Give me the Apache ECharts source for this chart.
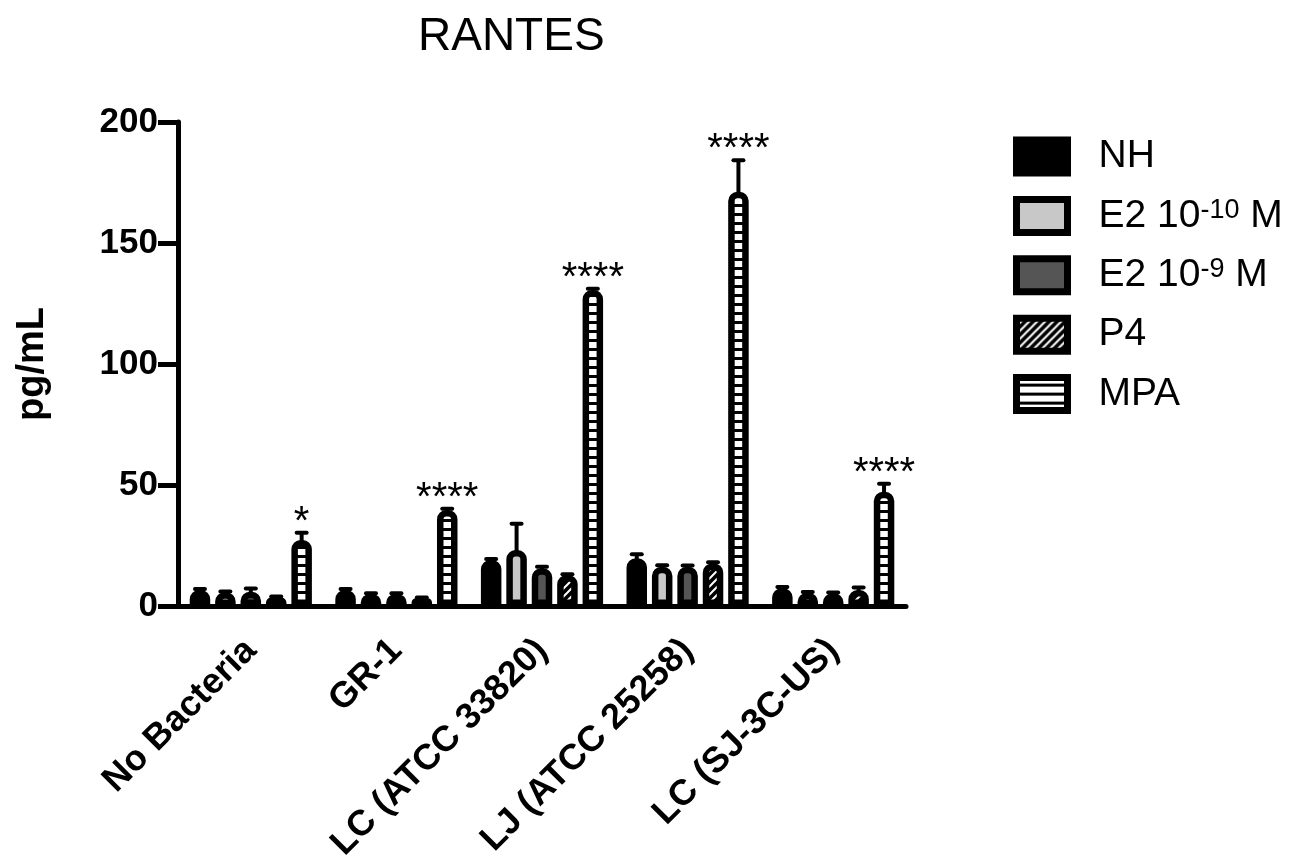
<!DOCTYPE html>
<html>
<head>
<meta charset="utf-8">
<title>RANTES</title>
<script src="https://cdn.jsdelivr.net/npm/echarts@6/dist/echarts.min.js"></script>
<style>
  html, body { margin: 0; padding: 0; background: #fff; }
  #chart { width: 1303px; height: 865px; }
</style>
</head>
<body>
<div id="chart"></div>
<script>
// ---- data ----
const categories = ['No Bacteria', 'GR-1', 'LC (ATCC 33820)', 'LJ (ATCC 25258)', 'LC (SJ-3C-US)'];
const seriesNames = ['NH', 'E2 10-10 M', 'E2 10-9 M', 'P4', 'MPA'];

const nhMean     = [6.6, 6.6, 19.0, 19.7, 7.3];
const nhErr      = [0.4, 0.4, 0.4, 1.7, 0.6];
const e2lowMean  = [5.7, 5.0, 23.1, 16.2, 5.5];
const e2lowErr   = [0.3, 0.3, 10.9, 0.6, 0.3];
const e2highMean = [5.9, 5.0, 15.6, 16.2, 5.3];
const e2highErr  = [1.3, 0.3, 0.6, 0.5, 0.3];
const p4Mean     = [3.6, 3.2, 12.8, 17.6, 6.6];
const p4Err      = [0.3, 0.3, 0.3, 0.5, 1.0];
const mpaMean    = [27.3, 39.7, 130.6, 171.2, 47.2];
const mpaErr     = [3.0, 0.5, 0.5, 13.0, 3.3];

const mpaSignificance = ['*', '****', '****', '****', '****'];
const yTicks = [0, 50, 100, 150, 200];

// ---- fill patterns ----
function makeTile(w, h, draw) {
  const c = document.createElement('canvas');
  c.width = w; c.height = h;
  draw(c.getContext('2d'));
  return c;
}
const hatchTile = makeTile(8, 8, ctx => {
  ctx.fillStyle = '#000'; ctx.fillRect(0, 0, 8, 8);
  ctx.strokeStyle = '#fff'; ctx.lineWidth = 2;
  ctx.beginPath();
  ctx.moveTo(-4, 4); ctx.lineTo(4, -4);
  ctx.moveTo(0, 8); ctx.lineTo(8, 0);
  ctx.moveTo(4, 12); ctx.lineTo(12, 4);
  ctx.stroke();
});
const stripeTile = makeTile(12, 9, ctx => {
  ctx.fillStyle = '#fff'; ctx.fillRect(0, 0, 12, 9);
  ctx.fillStyle = '#000'; ctx.fillRect(0, 6, 12, 3);
});

const FONT = '"Liberation Sans", Arial, Helvetica, sans-serif';
const BAR_W = 20.5;      // outer bar width incl. border
const BAR_GAP = 0.24;
const STEP = BAR_W * (1 + BAR_GAP);

const means = [nhMean, e2lowMean, e2highMean, p4Mean, mpaMean];
const errs = [nhErr, e2lowErr, e2highErr, p4Err, mpaErr];
const fills = [
  '#000000',
  '#c8c8c8',
  '#555555',
  { image: hatchTile, repeat: 'repeat' },
  { image: stripeTile, repeat: 'repeat' }
];

const barSeries = seriesNames.map((name, i) => ({
  name,
  type: 'bar',
  data: means[i],
  barWidth: BAR_W,
  barGap: (BAR_GAP * 100) + '%',
  itemStyle: {
    color: fills[i],
    borderColor: '#000',
    borderWidth: 6.5,
    borderRadius: [6, 6, 0, 0]
  },
  z: 2
}));

// error bars (upper only) and significance marks
const errSeries = seriesNames.map((name, i) => ({
  name: name + ' SEM',
  type: 'custom',
  z: 3,
  data: categories.map((c, j) => [j, means[i][j], errs[i][j]]),
  encode: { x: 0, y: 1 },
  renderItem: (params, api) => {
    const cat = api.value(0), val = api.value(1), err = api.value(2);
    const base = api.coord([cat, val]);
    const top = api.coord([cat, val + err]);
    const x = base[0] + (i - 2) * STEP;
    const children = [
      { type: 'line', shape: { x1: x, y1: base[1] + 2, x2: x, y2: top[1] },
        style: { stroke: '#000', lineWidth: 4 } },
      { type: 'line', shape: { x1: x - 5, y1: top[1], x2: x + 5, y2: top[1] },
        style: { stroke: '#000', lineWidth: 4, lineCap: 'round' } }
    ];
    if (i === 4) {
      children.push({
        type: 'text', x: x, y: top[1] - 10,
        style: {
          text: mpaSignificance[params.dataIndex], fill: '#000',
          font: '40px ' + FONT, align: 'center', verticalAlign: 'middle'
        }
      });
    }
    return { type: 'group', children };
  }
}));

const legendRich = {
  base: { fontSize: 39, fontFamily: FONT, color: '#000', lineHeight: 38 },
  sup: { fontSize: 27, fontFamily: FONT, color: '#000', lineHeight: 20, verticalAlign: 'top' }
};

const chart = echarts.init(document.getElementById('chart'), null, { renderer: 'canvas' });
chart.setOption({
  animation: false,
  backgroundColor: '#fff',
  title: {
    text: 'RANTES',
    left: 413, top: 9,
    textStyle: { fontSize: 46, fontWeight: 'normal', fontFamily: FONT, color: '#000' }
  },
  legend: {
    data: seriesNames,
    orient: 'vertical',
    left: 1013, top: 136.5,
    padding: 0,
    icon: 'rect',
    itemWidth: 51, itemHeight: 33, itemGap: 19.4,
    selectedMode: false,
    itemStyle: { borderColor: '#000', borderWidth: 7 },
    formatter: name => {
      const m = name.match(/^(E2 10)(-\d+)( M)$/);
      if (m) return '{base|' + m[1] + '}{sup|' + m[2] + '}{base| M}';
      return '{base|' + name + '}';
    },
    textStyle: { rich: legendRich, padding: [0, 0, 0, 26] }
  },
  grid: { left: 178, right: 397, top: 122, bottom: 259, containLabel: false },
  xAxis: {
    type: 'category',
    data: categories,
    axisLine: { lineStyle: { color: '#000', width: 5 } },
    axisTick: { alignWithLabel: true, length: 20, lineStyle: { color: '#000', width: 5 } },
    axisLabel: {
      rotate: 45, interval: 0, margin: 39,
      color: '#000', fontSize: 36, fontWeight: 'bold', fontFamily: FONT,
      align: 'right', verticalAlign: 'middle'
    }
  },
  yAxis: {
    type: 'value',
    min: yTicks[0], max: yTicks[yTicks.length - 1], interval: 50,
    name: 'pg/mL',
    nameLocation: 'middle',
    nameGap: 126,
    nameTextStyle: { fontSize: 38, fontWeight: 'bold', fontFamily: FONT, color: '#000' },
    axisLine: { show: true, lineStyle: { color: '#000', width: 5 } },
    axisTick: { show: true, length: 20, lineStyle: { color: '#000', width: 5 } },
    axisLabel: { margin: 20, color: '#000', fontSize: 35, fontWeight: 'bold', fontFamily: FONT },
    splitLine: { show: false }
  },
  series: [...barSeries, ...errSeries]
});
</script>
</body>
</html>
